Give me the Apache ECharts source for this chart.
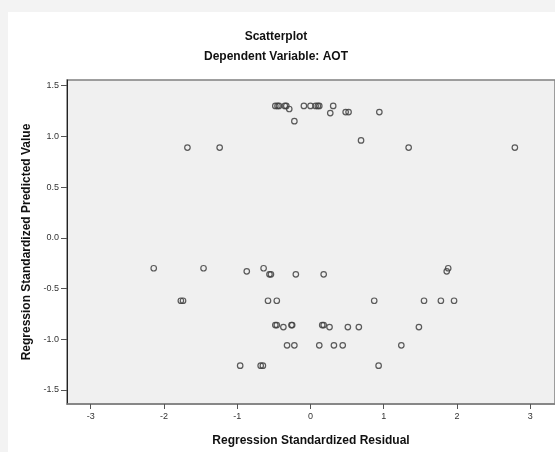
<!DOCTYPE html>
<html>
<head>
<meta charset="UTF-8">
<title>Scatterplot</title>
<script src="https://cdn.jsdelivr.net/npm/echarts@6/dist/echarts.min.js"></script>
<style>
    html, body { margin: 0; padding: 0; background: #f3f3f3; }
    #chart { width: 555px; height: 452px; }
</style>
</head>
<body>
<div id="chart"></div>
<script>
    // regression standardized residual (x) / predicted value (y)
    const residuals = [
        -0.48, -0.45, -0.43, -0.35, -0.33, -0.29, -0.09, 0.00, 0.07, 0.10, 0.12, 0.31,
        0.27, 0.48, 0.52, 0.94, -0.22, 0.69, -1.68, -1.24, 1.34, 2.79,
        -2.14, -1.46, -0.87, -0.64, -0.56, -0.54, -0.20, 0.18, 1.88, 1.86,
        -1.77, -1.74, -0.58, -0.46, 0.87, 1.55, 1.78, 1.96,
        -0.48, -0.46, -0.37, -0.26, -0.25, 0.16, 0.18, 0.26, 0.51, 0.66, 1.48,
        -0.32, -0.22, 0.12, 0.32, 0.44, 1.24,
        -0.96, -0.68, -0.65, 0.93
    ];
    const predicted = [
        1.30, 1.30, 1.30, 1.30, 1.30, 1.27, 1.30, 1.30, 1.30, 1.30, 1.30, 1.30,
        1.23, 1.24, 1.24, 1.24, 1.15, 0.96, 0.89, 0.89, 0.89, 0.89,
        -0.30, -0.30, -0.33, -0.30, -0.36, -0.36, -0.36, -0.36, -0.30, -0.33,
        -0.62, -0.62, -0.62, -0.62, -0.62, -0.62, -0.62, -0.62,
        -0.86, -0.86, -0.88, -0.86, -0.86, -0.86, -0.86, -0.88, -0.88, -0.88, -0.88,
        -1.06, -1.06, -1.06, -1.06, -1.06, -1.06,
        -1.26, -1.26, -1.26, -1.26
    ];
    const xTicks = [-3, -2, -1, 0, 1, 2, 3];
    const yTicks = [-1.5, -1.0, -0.5, 0.0, 0.5, 1.0, 1.5];

    const font = 'Liberation Sans, Arial, sans-serif';
    const points = residuals.map((x, i) => [x, predicted[i]]);

    const chart = echarts.init(document.getElementById('chart'));
    chart.setOption({
        animation: false,
        backgroundColor: '#f3f3f3',
        graphic: [{
            type: 'rect',
            z: -10,
            shape: { x: 8, y: 12, width: 560, height: 450 },
            style: { fill: '#ffffff' }
        }],
        title: [
            {
                text: 'Scatterplot',
                left: 271, top: 26, textAlign: 'center',
                textStyle: { fontFamily: font, fontSize: 12, fontWeight: 'bold', color: '#111' }
            },
            {
                text: 'Dependent Variable: AOT',
                left: 271, top: 46, textAlign: 'center',
                textStyle: { fontFamily: font, fontSize: 12, fontWeight: 'bold', color: '#111' }
            }
        ],
        grid: {
            left: 67, right: -5, top: 80, bottom: 48,
            show: true,
            backgroundColor: '#f0f0f0',
            borderColor: '#808080',
            borderWidth: 1.5
        },
        xAxis: {
            type: 'value',
            min: -3.324, max: 3.338,
            name: 'Regression Standardized Residual',
            nameLocation: 'middle',
            nameGap: 31,
            nameTextStyle: { fontFamily: font, fontSize: 12, fontWeight: 'bold', color: '#111' },
            splitLine: { show: false },
            axisLine: { onZero: false, lineStyle: { color: '#808080', width: 1.5 } },
            axisTick: { customValues: xTicks, length: 5, lineStyle: { color: '#555' } },
            axisLabel: {
                customValues: xTicks,
                margin: 8,
                fontFamily: font, fontSize: 9, color: '#333'
            }
        },
        yAxis: {
            type: 'value',
            min: -1.638, max: 1.556,
            name: 'Regression Standardized Predicted Value',
            nameLocation: 'middle',
            nameGap: 32,
            nameTextStyle: { fontFamily: font, fontSize: 12, fontWeight: 'bold', color: '#111' },
            splitLine: { show: false },
            axisLine: { onZero: false, lineStyle: { color: '#222', width: 1 } },
            axisTick: { customValues: yTicks, length: 6, lineStyle: { color: '#555' } },
            axisLabel: {
                customValues: yTicks,
                margin: 8,
                formatter: v => v.toFixed(1),
                fontFamily: font, fontSize: 9, color: '#333'
            }
        },
        series: [{
            type: 'scatter',
            data: points,
            symbol: 'circle',
            symbolSize: 5.5,
            itemStyle: {
                color: 'rgba(0,0,0,0)',
                borderColor: '#404040',
                borderWidth: 1.2,
                opacity: 0.85
            }
        }]
    });
</script>
</body>
</html>
